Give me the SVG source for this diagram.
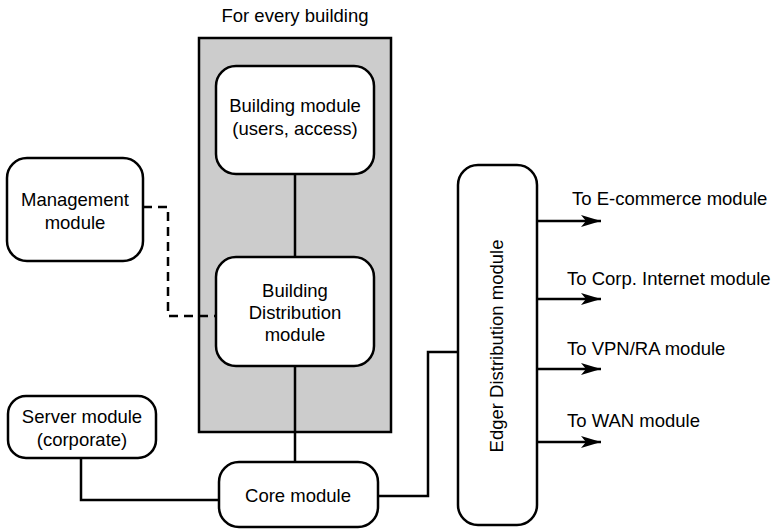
<svg xmlns="http://www.w3.org/2000/svg" width="773" height="529" viewBox="0 0 773 529">
<style>
text{font-family:"Liberation Sans",Arial,sans-serif;font-size:18.5px;fill:#000}
.n{fill:#fff;stroke:#000;stroke-width:2.5}
.c{fill:none;stroke:#000;stroke-width:2.5}
.t{text-anchor:middle}
</style>
<defs>
<marker id="arr" viewBox="0 0 20 12" refX="20" refY="6" markerWidth="20" markerHeight="12" markerUnits="userSpaceOnUse" orient="auto">
<path d="M0,0 L20,6 L0,12 L5,6 z" fill="#000"/>
</marker>
</defs>
<g id="building-group">
<rect x="199" y="38" width="192" height="394" fill="#cccccc" stroke="#000" stroke-width="2.5"/>
<text class="t" x="295" y="22">For every building</text>
</g>
<g id="connectors">
<line class="c" x1="295" y1="174" x2="295" y2="257"/>
<line class="c" x1="295" y1="366" x2="295" y2="462"/>
<polyline class="c" points="143,207 168,207 168,316 216,316" stroke-dasharray="9,6"/>
<polyline class="c" points="81,458 81,500 219,500"/>
<polyline class="c" points="378,496 428,496 428,352 458,352"/>
<line class="c" x1="537" y1="221" x2="601" y2="221" marker-end="url(#arr)"/>
<line class="c" x1="537" y1="299" x2="601" y2="299" marker-end="url(#arr)"/>
<line class="c" x1="537" y1="369" x2="601" y2="369" marker-end="url(#arr)"/>
<line class="c" x1="537" y1="442" x2="601" y2="442" marker-end="url(#arr)"/>
</g>
<g id="building-module">
<rect class="n" x="216" y="66" width="158" height="108" rx="20"/>
<text class="t" x="295" y="112">Building module</text>
<text class="t" x="295" y="135">(users, access)</text>
</g>
<g id="building-distribution">
<rect class="n" x="216" y="257" width="158" height="109" rx="20"/>
<text class="t" x="295" y="297">Building</text>
<text class="t" x="295" y="319">Distribution</text>
<text class="t" x="295" y="341">module</text>
</g>
<g id="management-module">
<rect class="n" x="7" y="158" width="136" height="103" rx="20"/>
<text class="t" x="75" y="206">Management</text>
<text class="t" x="75" y="229">module</text>
</g>
<g id="server-module">
<rect class="n" x="8" y="396" width="148" height="62" rx="18"/>
<text class="t" x="82" y="423">Server module</text>
<text class="t" x="82" y="446">(corporate)</text>
</g>
<g id="core-module">
<rect class="n" x="219" y="462" width="159" height="65" rx="20"/>
<text class="t" x="298" y="502">Core module</text>
</g>
<g id="edge-distribution">
<rect class="n" x="458" y="165" width="79" height="360" rx="20"/>
<text class="t" transform="translate(503,346) rotate(-90)">Edger Distribution module</text>
</g>
<g id="labels">
<text x="572" y="205">To E-commerce module</text>
<text x="567" y="285">To Corp. Internet module</text>
<text x="567" y="355">To VPN/RA module</text>
<text x="567" y="427">To WAN module</text>
</g>
</svg>
